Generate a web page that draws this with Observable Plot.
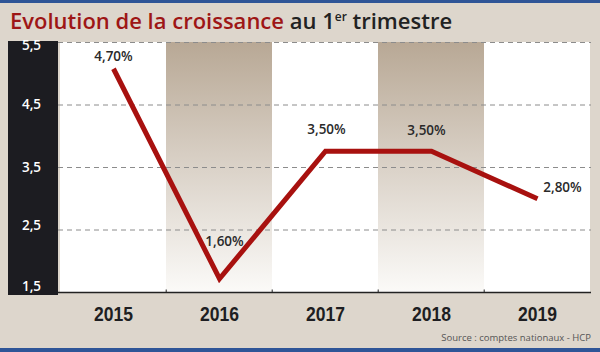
<!DOCTYPE html>
<html><head><meta charset="utf-8">
<script src="https://cdn.jsdelivr.net/npm/d3@7"></script>
<script src="https://cdn.jsdelivr.net/npm/@observablehq/plot@0.6"></script>
<style>
html,body{margin:0;padding:0;}
body{width:600px;height:352px;background:#ddd6cc;position:relative;overflow:hidden;font-family:"Open Sans",sans-serif;}
#topbar{position:absolute;left:0;top:0;width:600px;height:3px;background:#2f5597;}
#botbar{position:absolute;left:0;top:348px;width:600px;height:4px;background:#2f5597;}
#title{position:absolute;left:10px;top:5px;font-size:22px;font-weight:600;white-space:nowrap;color:#222;line-height:30px;}
#title .red{color:#9e1616;}
#title .sup{font-size:12px;position:relative;top:-8px;}
#band{position:absolute;left:8px;top:41px;width:50px;height:254px;background:#1c1c21;}
#chart{position:absolute;left:0;top:36px;}
#source{position:absolute;right:9px;top:331px;font-size:9.5px;color:#555;white-space:nowrap;}
</style></head><body>
<div id="topbar"></div>
<div id="title"><span class="red">Evolution de la croissance</span> au 1<span class="sup">er</span> trimestre</div>
<div id="band"></div>
<div id="chart"></div>
<div id="source">Source : comptes nationaux - HCP</div>
<div id="botbar"></div>
<script>
const years = ["2015", "2016", "2017", "2018", "2019"];
const growth = [5.08, 1.72, 3.76, 3.76, 3.0];
const labels = ["4,70%", "1,60%", "3,50%", "3,50%", "2,80%"];
const yTicks = [5.5, 4.5, 3.5, 2.5, 1.5];
const yTickLabels = ["5,5", "4,5", "3,5", "2,5", "1,5"];
const gridTicks = [5.5, 4.5, 3.5, 2.5];

const data = years.map((y, i) => ({year: y, value: growth[i], label: labels[i], i}));
const ticks = yTicks.map((v, i) => ({v, t: yTickLabels[i], i}));

const gradDefs = () => {
  const defs = d3.create("svg:defs");
  const g = defs.append("linearGradient").attr("id", "colgrad").attr("x1", 0).attr("y1", 0).attr("x2", 0).attr("y2", 1);
  g.append("stop").attr("offset", "0%").attr("stop-color", "#b8a895");
  g.append("stop").attr("offset", "45%").attr("stop-color", "#d7cec3");
  g.append("stop").attr("offset", "100%").attr("stop-color", "#fbfaf8");
  return defs.node();
};

const labelFont = {fontFamily: "Open Sans", fontSize: 13.5, fontWeight: 600, fill: "#2a2a2a"};
const lbl = (idx, dx, dy) => Plot.text(data.filter(d => d.i === idx), {x: "year", y: "value", text: "label", dx, dy, ...labelFont});
const tickLbl = (idxs, dy) => Plot.text(ticks.filter(d => idxs.includes(d.i)), {y: "v", text: "t", frameAnchor: "left", dx: -27, dy, textAnchor: "middle", fill: "white", fontFamily: "Open Sans", fontSize: 13.5, fontWeight: 600});

const chart = Plot.plot({
  width: 600,
  height: 294,
  marginLeft: 58,
  marginRight: 9,
  marginTop: 6,
  marginBottom: 38,
  style: {background: "transparent", overflow: "visible"},
  x: {type: "band", domain: years, padding: 0, label: null},
  y: {domain: [1.5, 5.5], axis: null},
  marks: [
    gradDefs,
    Plot.cell(years.filter((d, i) => i % 2 === 0), {x: d => d, fill: "white", inset: 0}),
    Plot.cell(years.filter((d, i) => i % 2 === 1), {x: d => d, fill: "url(#colgrad)", inset: 0}),
    Plot.ruleY(gridTicks, {stroke: "#8c8c8c", strokeDasharray: "5,4", strokeWidth: 1}),
    Plot.ruleY([1.5], {stroke: "#222", strokeWidth: 1.5}),
    Plot.ruleX(years.slice(1), {x: d => d, y1: 1.5, y2: 1.54, dx: -53.3, stroke: "#222", strokeWidth: 1}),
    Plot.line(data, {x: "year", y: "value", stroke: "#a8110f", strokeWidth: 5, strokeLinejoin: "miter", strokeLinecap: "butt", strokeMiterlimit: 10}),
    lbl(0, 0, -12),
    lbl(1, 5, -37),
    lbl(2, 1, -22),
    lbl(3, -5, -21),
    lbl(4, 25, -11),
    tickLbl([0], 3),
    tickLbl([1, 2], 0),
    tickLbl([3], -4),
    tickLbl([4], -6),
    Plot.axisX({tickSize: 0, tickPadding: 14, label: null, fontFamily: "Liberation Sans, Arial, sans-serif", fontSize: 21, fontWeight: 700, fill: "#1e1e22"})
  ]
});
d3.select(chart).selectAll('g[aria-label="x-axis tick label"] text')
  .attr("textLength", 39).attr("lengthAdjust", "spacingAndGlyphs");
document.getElementById("chart").appendChild(chart);
</script>
</body></html>
